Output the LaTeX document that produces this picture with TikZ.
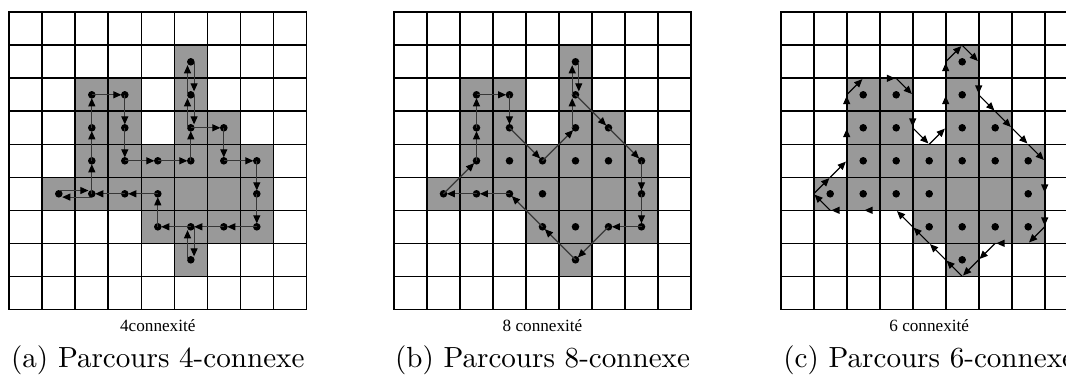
\documentclass[tikz,border=0pt]{standalone}
\usepackage{fontspec}
\newfontfamily\figfont{Liberation Serif}
\usetikzlibrary{arrows.meta}
\definecolor{cellgray}{RGB}{153,153,153}
\definecolor{pathgray}{RGB}{55,55,55}
\begin{document}
\begin{tikzpicture}[x=0.3436pt,y=-0.3436pt,
  gridline/.style={line width=0.55pt,black,line cap=rect},
  cellfill/.style={fill=cellgray},
  pixdot/.style={fill=black},
  seg/.style={draw=pathgray,line width=0.4pt,-{Triangle[length=2.8pt,width=2.4pt,color=black]},shorten >=1.15pt},
  crack/.style={draw=black,line width=0.4pt,-{Triangle[length=2.8pt,width=2.4pt]},shorten >=0.4pt},
  sublabel/.style={font=\figfont\fontsize{5.9}{7}\selectfont,anchor=base,inner sep=0pt},
  caption/.style={font=\fontsize{10}{12}\selectfont,anchor=base,inner sep=0pt}]
\useasboundingbox (0,0) rectangle (1066,376);
\begin{scope}
\clip (0,0) rectangle (1066,376);
% panels: fills, grids, named cell centres, dots
\foreach \p/\ox in {a/9.3,b/394,c/780.7}{
  \foreach \c/\r in {5/1,2/2,3/2,5/2,2/3,3/3,5/3,6/3,2/4,3/4,4/4,5/4,6/4,7/4,1/5,2/5,3/5,4/5,5/5,6/5,7/5,4/6,5/6,6/6,7/6,5/7}
    \fill[cellfill] (\ox+33*\c,12.3+33*\r) rectangle ++(33,33);
  \foreach \i in {0,...,9}{
    \draw[gridline] (\ox+33*\i,12.3) -- (\ox+33*\i,309.3);
    \draw[gridline] (\ox,12.3+33*\i) -- (\ox+297,12.3+33*\i);
  }
  \foreach \c in {0,...,8}{
    \foreach \r in {0,...,8}{
      \coordinate (\p-\c-\r) at (\ox+33*\c+16.5,12.3+33*\r+16.5);
    }
  }
  \foreach \c/\r in {5/1,2/2,3/2,5/2,2/3,3/3,5/3,6/3,2/4,3/4,4/4,5/4,6/4,7/4,1/5,2/5,3/5,4/5,7/5,4/6,5/6,6/6,7/6,5/7}
    \fill[pixdot] (\p-\c-\r) circle[radius=1.3pt];
}
% vertices (half-cell lattice) of panel c
\foreach \i in {0,...,18}{
  \foreach \j in {0,...,18}{
    \coordinate (cv-\i-\j) at (780.7+16.5*\i,12.3+16.5*\j);
  }
}
% (a) 4-connected contour
\foreach \s/\e/\dx/\dy in {2-2/3-2/0/0,3-2/3-3/0/0,3-3/3-4/0/0,3-4/4-4/0/0,4-4/5-4/0/0,
  5-4/5-3/0/0,5-3/5-2/-1.13/0,5-2/5-1/-1.13/0,5-1/5-2/1.13/0,5-2/5-3/1.13/0,
  5-3/6-3/0/0,6-3/6-4/0/0,6-4/7-4/0/0,7-4/7-5/0/0,7-5/7-6/0/0,7-6/6-6/0/0,6-6/5-6/0/0,
  5-6/5-7/1.13/0,5-7/5-6/-1.13/0,5-6/4-6/0/0,4-6/4-5/0/0,4-5/3-5/0/0,3-5/2-5/0/0,
  2-5/1-5/0/-1.13,1-5/2-5/0/1.13,2-5/2-4/0/0,2-4/2-3/0/0,2-3/2-2/0/0}
  \draw[seg] ([shift={(\dx pt,\dy pt)}]a-\s) -- ([shift={(\dx pt,\dy pt)}]a-\e);
% (b) 8-connected contour
\foreach \s/\e/\dx/\dy in {2-2/3-2/0/0,3-2/3-3/0/0,3-3/4-4/0/0,4-4/5-3/0/0,
  5-3/5-2/-1.13/0,5-2/5-1/-1.13/0,5-1/5-2/1.13/0,5-2/6-3/0/0,6-3/7-4/0/0,
  7-4/7-5/0/0,7-5/7-6/0/0,7-6/6-6/0/0,6-6/5-7/0/0,5-7/4-6/0/0,4-6/3-5/0/0,
  3-5/2-5/0/0,2-5/1-5/0/0,1-5/2-4/0/0,2-4/2-3/0/0,2-3/2-2/0/0}
  \draw[seg] ([shift={(\dx pt,\dy pt)}]b-\s) -- ([shift={(\dx pt,\dy pt)}]b-\e);
% (c) 6-connected contour along edge midpoints
\foreach \s/\e in {2-11/3-10,3-10/4-9,4-9/4-7,4-7/4-5,4-5/5-4,5-4/7-4,7-4/8-5,8-5/8-7,
  8-7/9-8,9-8/10-7,10-7/10-5,10-5/10-3,10-3/11-2,11-2/12-3,12-3/12-5,12-5/13-6,
  13-6/14-7,14-7/15-8,15-8/16-9,16-9/16-11,16-11/16-13,16-13/15-14,15-14/13-14,
  13-14/12-15,12-15/11-16,11-16/10-15,10-15/9-14,9-14/8-13,8-13/7-12,7-12/5-12,
  5-12/3-12,3-12/2-11}
  \draw[crack] (cv-\s) -- (cv-\e);
% labels
\node[sublabel] (la) at (157.8,331) {4connexité};
\node[sublabel] (lb) at (542.5,331) {8 connexité};
\node[sublabel] (lc) at (929.2,331) {6 connexité};
\node[caption] (ca) at (157.8,367) {(a) Parcours 4-connexe};
\node[caption] (cb) at (542.5,367) {(b) Parcours 8-connexe};
\node[caption] (cc) at (929.2,367) {(c) Parcours 6-connexe};
\end{scope}
\end{tikzpicture}
\end{document}
